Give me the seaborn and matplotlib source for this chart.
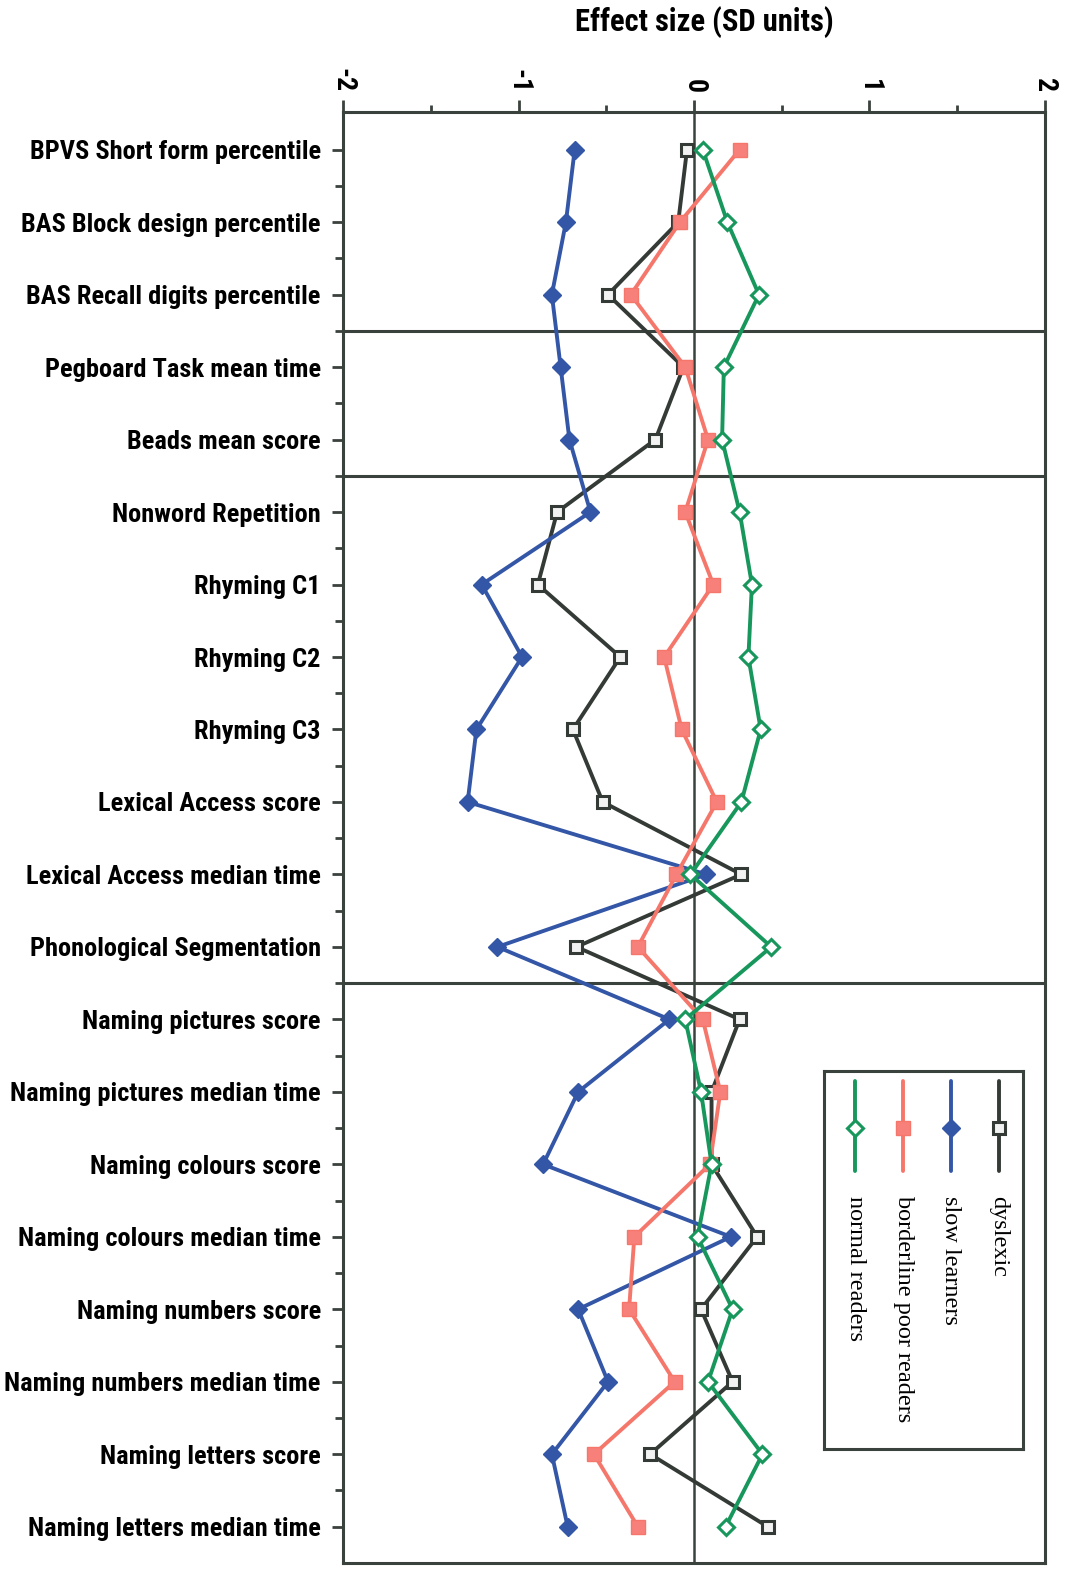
import numpy as np
import pandas as pd
import matplotlib
matplotlib.use("Agg")
import matplotlib.pyplot as plt
from matplotlib.lines import Line2D
from matplotlib import font_manager as fm
import seaborn as sns

sns.set_style("ticks")

# Pick a narrow bold sans for the labels, with a size that suits it
installed = {f.name for f in fm.fontManager.ttflist}
label_font, label_size, title_size, tick_size = "DejaVu Sans", 12.5, 16, 16
for name, ls, ts, ks in [("Liberation Sans Narrow", 17, 20, 19),
                         ("Roboto Condensed", 19, 22, 20),
                         ("DejaVu Sans Condensed", 14, 17, 18),
                         ("Roboto", 14.5, 18, 18)]:
    if name in installed:
        label_font, label_size, title_size, tick_size = name, ls, ts, ks
        break

plt.rcParams["font.family"] = [label_font, "DejaVu Sans"]
plt.rcParams["text.color"] = "black"
plt.rcParams["xtick.labelcolor"] = "black"
plt.rcParams["ytick.labelcolor"] = "black"

# Measures, top to bottom
measures = [
    "BPVS Short form percentile",
    "BAS Block design percentile",
    "BAS Recall digits percentile",
    "Pegboard Task mean time",
    "Beads mean score",
    "Nonword Repetition",
    "Rhyming C1",
    "Rhyming C2",
    "Rhyming C3",
    "Lexical Access score",
    "Lexical Access median time",
    "Phonological Segmentation",
    "Naming pictures score",
    "Naming pictures median time",
    "Naming colours score",
    "Naming colours median time",
    "Naming numbers score",
    "Naming numbers median time",
    "Naming letters score",
    "Naming letters median time",
]

# Effect sizes (SD units) per group
dyslexic = [-0.04, -0.09, -0.49, -0.06, -0.22, -0.78, -0.89, -0.42, -0.69, -0.52,
            0.27, -0.67, 0.26, 0.10, 0.10, 0.36, 0.04, 0.22, -0.25, 0.42]
slow_learners = [-0.68, -0.73, -0.81, -0.76, -0.71, -0.59, -1.21, -0.98, -1.24, -1.29,
                 0.07, -1.12, -0.14, -0.66, -0.86, 0.21, -0.66, -0.49, -0.81, -0.72]
borderline = [0.26, -0.08, -0.36, -0.05, 0.08, -0.05, 0.11, -0.17, -0.07, 0.13,
              -0.10, -0.32, 0.05, 0.15, 0.09, -0.34, -0.37, -0.11, -0.57, -0.32]
normal_readers = [0.05, 0.19, 0.37, 0.17, 0.16, 0.26, 0.33, 0.31, 0.38, 0.27,
                  -0.02, 0.44, -0.05, 0.04, 0.10, 0.02, 0.22, 0.08, 0.39, 0.18]

group_names = ["dyslexic", "slow learners", "borderline poor readers", "normal readers"]
x_ticks = [-2, -1, 0, 1, 2]
x_tick_labels = ["-2", "-1", "0", "1", "2"]
section_breaks = [2.5, 4.5, 11.5]

series = {
    "dyslexic": dyslexic,
    "slow learners": slow_learners,
    "borderline poor readers": borderline,
    "normal readers": normal_readers,
}
rows = []
for g, vals in series.items():
    for i, (m, v) in enumerate(zip(measures, vals)):
        rows.append({"group": g, "measure": m, "row": i, "effect": v})
df = pd.DataFrame(rows)

styles = {
    "dyslexic": dict(color="#343a36", marker="s", markersize=9,
                     markerfacecolor="#f2f2f2", markeredgecolor="#343a36", markeredgewidth=2.2),
    "slow learners": dict(color="#3456a6", marker="D", markersize=9,
                          markerfacecolor="#3456a6", markeredgecolor="#3456a6", markeredgewidth=1),
    "borderline poor readers": dict(color="#f5776b", marker="s", markersize=10,
                                    markerfacecolor="#f7807a", markeredgecolor="#f5776b", markeredgewidth=1),
    "normal readers": dict(color="#17975c", marker="D", markersize=8,
                           markerfacecolor="white", markeredgecolor="#17975c", markeredgewidth=2.2),
}

fig = plt.figure(figsize=(10.65, 15.73), dpi=100)
ax = fig.add_axes([0.3221, 0.0064, 0.6591, 0.9224])

spine_col = "#3a423d"

# Reference lines: zero effect and section separators
ax.axvline(0, color=spine_col, lw=1.8, zorder=1)
for yb in section_breaks:
    ax.axhline(yb, color=spine_col, lw=2.2, zorder=1)

for g in group_names:
    sub = df[df["group"] == g]
    sns.lineplot(data=sub, x="effect", y="row", sort=False, estimator=None,
                 lw=2.8, ax=ax, legend=False, zorder=3, **styles[g])

ax.set_xlim(-2, 2)
ax.set_ylim(19.5, -0.52)

ax.xaxis.tick_top()
ax.xaxis.set_label_position("top")
ax.set_xticks(x_ticks)
ax.set_xticklabels(x_tick_labels, rotation=-90, fontsize=tick_size, fontweight="bold")
ax.set_xticks([-1.5, -0.5, 0.5, 1.5], minor=True)
ax.tick_params(axis="x", which="major", direction="out", length=9, width=2,
               color=spine_col, pad=5)
ax.tick_params(axis="x", which="minor", direction="out", length=5, width=2, color=spine_col)

ax.set_yticks(np.arange(len(measures)))
ax.set_yticklabels(measures, fontsize=label_size, fontweight="bold")
ax.set_yticks(np.arange(0.5, len(measures) - 1, 1.0), minor=True)
ax.tick_params(axis="y", which="major", direction="out", length=8, width=2,
               color=spine_col, pad=8)
ax.tick_params(axis="y", which="minor", direction="out", length=6, width=2, color=spine_col)

ax.set_xlabel("")
ax.set_ylabel("")
for s in ax.spines.values():
    s.set_visible(True)
    s.set_linewidth(2.2)
    s.set_color(spine_col)

fig.text(0.661, 0.986, "Effect size (SD units)", ha="center", va="center",
         fontsize=title_size, fontweight="bold")

# Legend panel: vertical line samples with rotated labels
lax = fig.add_axes([0.7737, 0.0788, 0.1869, 0.2403])
lax.set_xlim(0, 1)
lax.set_ylim(1, 0)
lax.set_xticks([])
lax.set_yticks([])
for s in lax.spines.values():
    s.set_linewidth(2.2)
    s.set_color(spine_col)
lax.patch.set_facecolor("white")

legend_x = [0.879, 0.638, 0.397, 0.156]
for g, lx in zip(group_names, legend_x):
    st = styles[g]
    lax.add_line(Line2D([lx, lx], [0.026, 0.265], color=st["color"], lw=2.8))
    lax.add_line(Line2D([lx], [0.151], linestyle="none", marker=st["marker"],
                        markersize=st["markersize"], markerfacecolor=st["markerfacecolor"],
                        markeredgecolor=st["markeredgecolor"],
                        markeredgewidth=st["markeredgewidth"]))
    lax.text(lx, 0.33, g, rotation=-90, ha="center", va="top", fontsize=17.5,
             family=["Liberation Serif", "DejaVu Serif"])

fig.savefig("out.png", dpi=100)
